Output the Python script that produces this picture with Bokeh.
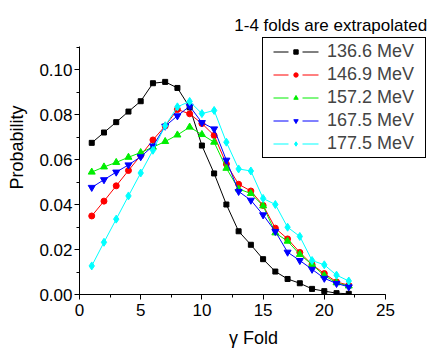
from bokeh.plotting import figure
from bokeh.models import (Legend, LegendItem, Label, SingleIntervalTicker,
                          NumeralTickFormatter, Range1d)
from bokeh.embed import file_html
from bokeh.resources import INLINE

folds = list(range(1, 23))

p136 = [0.0674, 0.0720, 0.0766, 0.0813, 0.0859, 0.0939, 0.0945, 0.0918, 0.0832, 0.0662,
        0.0538, 0.0400, 0.0281, 0.0221, 0.0157, 0.0102, 0.0069, 0.0050, 0.0025, 0.0015,
        0.0006, 0.0003]
p147 = [0.0349, 0.0415, 0.0483, 0.0551, 0.0618, 0.0687, 0.0749, 0.0822, 0.0803, 0.0760,
        0.0707, 0.0580, 0.0490, 0.0460, 0.0396, 0.0295, 0.0247, 0.0187, 0.0133, 0.0093,
        0.0056, 0.0041]
p157 = [0.0544, 0.0567, 0.0587, 0.0610, 0.0631, 0.0655, 0.0680, 0.0709, 0.0744, 0.0711,
        0.0677, 0.0561, 0.0469, 0.0449, 0.0394, 0.0274, 0.0237, 0.0178, 0.0133, 0.0084,
        0.0052, 0.0038]
p167 = [0.0476, 0.0510, 0.0544, 0.0576, 0.0612, 0.0660, 0.0748, 0.0794, 0.0837, 0.0764,
        0.0736, 0.0597, 0.0458, 0.0419, 0.0354, 0.0280, 0.0188, 0.0151, 0.0112, 0.0072,
        0.0049, 0.0034]
p177 = [0.0127, 0.0232, 0.0335, 0.0438, 0.0540, 0.0641, 0.0750, 0.0834, 0.0858, 0.0804,
        0.0818, 0.0677, 0.0558, 0.0549, 0.0427, 0.0400, 0.0299, 0.0258, 0.0151, 0.0132,
        0.0086, 0.0060]

labels = ["136.6 MeV", "146.9 MeV", "157.2 MeV", "167.5 MeV", "177.5 MeV"]
colors = ["#000000", "#ff0000", "#00ee00", "#0000ff", "#00ffff"]
markers = ["square", "circle", "triangle", "inverted_triangle", "diamond"]
msizes = [5, 6, 7, 7, 8]
series = [p136, p147, p157, p167, p177]
note = "1-4 folds are extrapolated"

FONT = "Liberation Sans"
X_MAX, Y_MAX = 25, 0.1103
NAN = float("nan")

# frame reaches the canvas' right and top edges so legend and note are not clipped;
# the axes themselves are bounded to the real extent
p = figure(width=427, height=350, output_backend="svg", toolbar_location=None,
           x_range=Range1d(0, X_MAX * 348 / 306), y_range=Range1d(0, 294 / 2250),
           min_border=0, min_border_left=79, min_border_right=0, min_border_top=0,
           min_border_bottom=56)
p.outline_line_color = None
p.xgrid.visible = False
p.ygrid.visible = False
p.background_fill_color = "white"
p.border_fill_color = "white"

items = []
for ys, lab, c, m, s in zip(series, labels, colors, markers, msizes):
    p.line(folds, ys, line_color=c, line_width=1)
    p.scatter(folds, ys, marker=m, size=s, fill_color=c, line_color=c)
    # legend-only sample glyphs (a single undefined point: nothing drawn in the plot)
    lg1 = p.line(x=[NAN], y=[NAN], line_color=c, line_width=1,
                 line_dash="0 7 15 14 16 7")
    lg2 = p.scatter(x=[NAN], y=[NAN], marker=m, fill_color=c, line_color=c)
    items.append(LegendItem(label=lab, renderers=[lg1, lg2]))

for ax in (p.xaxis[0], p.yaxis[0]):
    ax.axis_line_color = "black"
    ax.axis_line_width = 1
    ax.major_tick_line_color = "black"
    ax.minor_tick_line_color = "black"
    ax.major_tick_out = 5
    ax.major_tick_in = 0
    ax.minor_tick_out = 3
    ax.minor_tick_in = 0
    ax.major_label_text_font = FONT
    ax.major_label_text_font_size = "17px"
    ax.major_label_text_color = "black"
    ax.axis_label_text_font = FONT
    ax.axis_label_text_font_size = "18px"
    ax.axis_label_text_font_style = "normal"
    ax.axis_label_text_color = "black"

p.xaxis.bounds = (0, X_MAX)
p.yaxis.bounds = (0, Y_MAX)
p.xaxis.ticker = SingleIntervalTicker(interval=5, num_minor_ticks=2)
p.yaxis.ticker = SingleIntervalTicker(interval=0.02, num_minor_ticks=2)
p.yaxis.formatter = NumeralTickFormatter(format="0.00")
p.xaxis.axis_label = "γ Fold"
p.yaxis.axis_label = "Probability"
p.xaxis.major_label_standoff = 4
p.yaxis.major_label_standoff = 2
p.xaxis.axis_label_standoff = 9
p.yaxis.axis_label_standoff = 9

legend = Legend(items=items, location=(183, 136), padding=3, spacing=2,
                label_height=21, glyph_height=11, glyph_width=59,
                label_standoff=2, label_width=95, margin=0,
                label_text_font=FONT, label_text_font_size="18px",
                border_line_color="black", border_line_width=1,
                border_line_alpha=1.0, background_fill_alpha=1.0)
p.add_layout(legend, "center")

p.add_layout(Label(x=28.4, y=0.1197, text=note, text_align="right",
                   text_baseline="alphabetic", text_font=FONT,
                   text_font_size="17px", text_color="black"))

open("out.html", "w").write(file_html(p, INLINE))
